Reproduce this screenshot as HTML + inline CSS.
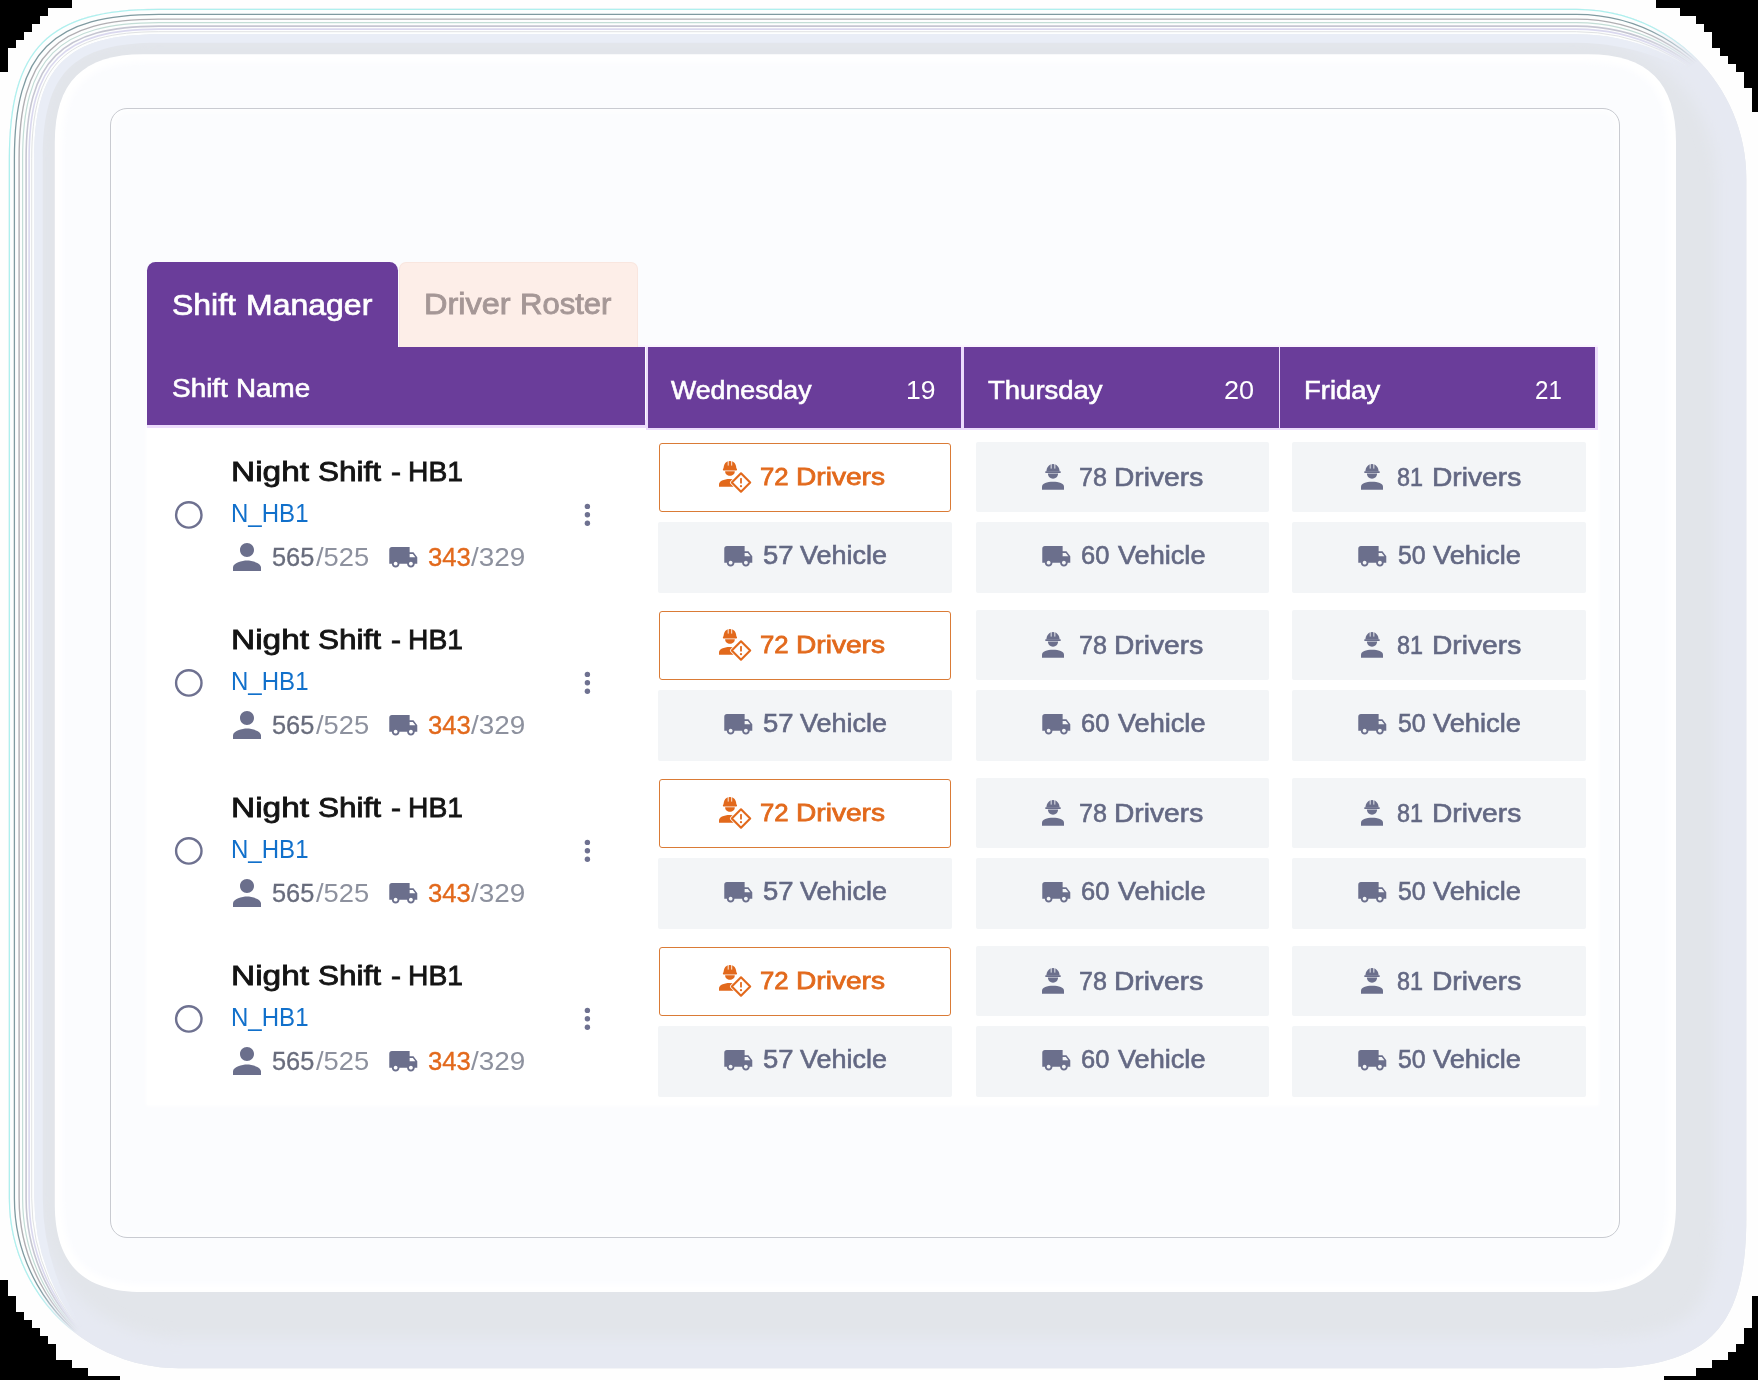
<!DOCTYPE html>
<html lang="en"><head><meta charset="utf-8"><title>Shift Manager</title>
<style>
html,body{margin:0;padding:0}
body{width:1758px;height:1380px;position:relative;overflow:hidden;background:#fefefe;font-family:"Liberation Sans",sans-serif}
.abs{position:absolute;display:block}
.t{position:absolute;display:block;white-space:pre;line-height:1;transform-origin:0 0;font-family:"Liberation Sans",sans-serif}
.panel{left:110px;top:108px;width:1509.5px;height:1129.5px;border:1px solid #c9cbd1;border-radius:17px;box-sizing:border-box;background:#fbfcfe;box-shadow:inset 0 0 8px 2px rgba(255,255,255,.9)}
.body{left:146.5px;top:427px;width:1451px;height:677.5px;background:#fff;box-shadow:0 0 4px 1px #fff}
.tab1{left:147.2px;top:261.6px;width:251.2px;height:86px;background:#6a3d9a;border-radius:8.5px 8.5px 0 0}
.tab2{left:399px;top:262px;width:239px;height:85px;background:#fdeee8;border:1px solid #f9e6df;border-bottom:none;box-sizing:border-box;border-radius:7px 7px 0 0}
.hd{background:#6a3d9a}
.lav{background:#ecdcfc}
.day{background:#6a3d9a}
.ocell{background:#fff;border:1.35px solid #da7b36;border-radius:3px;box-sizing:border-box}

.gcell{background:#f3f5f7;border-radius:2px;filter:blur(0.6px)}
</style></head>
<body>
<svg class="abs" width="1758" height="1380" viewBox="0 0 1758 1380" style="left:0;top:0"><defs><linearGradient id="fade" gradientUnits="userSpaceOnUse" x1="0" y1="0" x2="1000" y2="1276"><stop offset="0" stop-color="#fff" stop-opacity="1"/><stop offset="0.640" stop-color="#fff" stop-opacity="1"/><stop offset="0.676" stop-color="#fff" stop-opacity="0"/></linearGradient><mask id="m" maskUnits="userSpaceOnUse" x="0" y="0" width="1758" height="1380"><rect width="1758" height="1380" fill="url(#fade)"/></mask><clipPath id="oc"><path d="M8.80 158.80 C8.80 47.80 47.80 8.80 158.80 8.80 L1576.30 8.80 C1670.19 8.80 1746.30 84.91 1746.30 178.80 L1746.30 1218.20 C1746.30 1329.20 1707.30 1368.20 1596.30 1368.20 L178.80 1368.20 C84.91 1368.20 8.80 1292.09 8.80 1198.20 Z"/></clipPath><clipPath id="scc"><path d="M54.80 142.20 C54.80 82.36 82.96 54.20 142.80 54.20 L1588.00 54.20 C1647.84 54.20 1676.00 82.36 1676.00 142.20 L1676.00 1204.00 C1676.00 1263.84 1647.84 1292.00 1588.00 1292.00 L142.80 1292.00 C82.96 1292.00 54.80 1263.84 54.80 1204.00 Z"/></clipPath><filter id="b3" x="-5%" y="-5%" width="110%" height="110%"><feGaussianBlur stdDeviation="3.2"/></filter><filter id="b8" x="-5%" y="-5%" width="110%" height="110%"><feGaussianBlur stdDeviation="7"/></filter></defs><g shape-rendering="crispEdges" fill="#000"><rect x="0" y="0" width="72" height="8"/><rect x="0" y="8" width="48" height="8"/><rect x="0" y="16" width="40" height="8"/><rect x="0" y="24" width="32" height="8"/><rect x="0" y="32" width="24" height="8"/><rect x="0" y="40" width="16" height="8"/><rect x="0" y="48" width="8" height="8"/><rect x="0" y="56" width="8" height="8"/><rect x="0" y="64" width="8" height="8"/><rect x="1656" y="0" width="102" height="8"/><rect x="1680" y="8" width="78" height="8"/><rect x="1696" y="16" width="62" height="8"/><rect x="1704" y="24" width="54" height="8"/><rect x="1712" y="32" width="46" height="16"/><rect x="1720" y="48" width="38" height="8"/><rect x="1728" y="56" width="30" height="8"/><rect x="1736" y="64" width="22" height="8"/><rect x="1744" y="72" width="14" height="16"/><rect x="1752" y="88" width="6" height="24"/><rect x="0" y="1280" width="8" height="16"/><rect x="0" y="1296" width="16" height="16"/><rect x="0" y="1312" width="24" height="8"/><rect x="0" y="1320" width="32" height="8"/><rect x="0" y="1328" width="40" height="8"/><rect x="0" y="1336" width="48" height="8"/><rect x="0" y="1344" width="56" height="16"/><rect x="0" y="1360" width="72" height="8"/><rect x="0" y="1368" width="88" height="8"/><rect x="0" y="1376" width="120" height="4"/><rect x="1752" y="1296" width="6" height="32"/><rect x="1744" y="1328" width="14" height="16"/><rect x="1736" y="1344" width="22" height="8"/><rect x="1728" y="1352" width="30" height="8"/><rect x="1712" y="1360" width="46" height="8"/><rect x="1696" y="1368" width="62" height="8"/><rect x="1664" y="1376" width="94" height="4"/></g><path d="M8.80 158.80 C8.80 47.80 47.80 8.80 158.80 8.80 L1576.30 8.80 C1670.19 8.80 1746.30 84.91 1746.30 178.80 L1746.30 1218.20 C1746.30 1329.20 1707.30 1368.20 1596.30 1368.20 L178.80 1368.20 C84.91 1368.20 8.80 1292.09 8.80 1198.20 Z" fill="#e2e5ea"/><g clip-path="url(#oc)"><path d="M8.80 158.80 C8.80 47.80 47.80 8.80 158.80 8.80 L1576.30 8.80 C1670.19 8.80 1746.30 84.91 1746.30 178.80 L1746.30 1218.20 C1746.30 1329.20 1707.30 1368.20 1596.30 1368.20 L178.80 1368.20 C84.91 1368.20 8.80 1292.09 8.80 1198.20 Z" fill="none" stroke="#e6e9f2" stroke-width="60" filter="url(#b8)"/></g><g mask="url(#m)"><path d="M98.99 1348.30 A170.00 170.00 0 0 1 8.80 1198.20 L8.80 158.80 C8.80 47.80 47.80 8.80 158.80 8.80 L1576.30 8.80 A170.00 170.00 0 0 1 1726.40 98.99 L1726.40 98.99 A206.49 206.49 0 0 0 1576.30 34.30 L158.80 34.30 C66.67 34.30 34.30 66.67 34.30 158.80 L34.30 1198.20 A206.49 206.49 0 0 0 98.99 1348.30 Z" fill="#fdfefe"/><path d="M98.99 1348.30 A206.49 206.49 0 0 1 34.30 1198.20 L34.30 158.80 C34.30 66.67 66.67 34.30 158.80 34.30 L1576.30 34.30 A206.49 206.49 0 0 1 1726.40 98.99 L1726.40 98.99 A228.58 228.58 0 0 0 1576.30 42.80 L158.80 42.80 C72.96 42.80 42.80 72.96 42.80 158.80 L42.80 1198.20 A228.58 228.58 0 0 0 98.99 1348.30 Z" fill="#e9edf6"/><path d="M98.99 1348.30 A170.54 170.54 0 0 1 9.40 1198.20 L9.40 158.80 C9.40 48.24 48.24 9.40 158.80 9.40 L1576.30 9.40 A170.54 170.54 0 0 1 1726.40 98.99" fill="none" stroke="#aef0ee" stroke-width="1.3"/><path d="M98.99 1348.30 A175.47 175.47 0 0 1 14.40 1198.20 L14.40 158.80 C14.40 51.94 51.94 14.40 158.80 14.40 L1576.30 14.40 A175.47 175.47 0 0 1 1726.40 98.99" fill="none" stroke="#7f9aa0" stroke-width="1.3"/><path d="M98.99 1348.30 A180.95 180.95 0 0 1 19.10 1198.20 L19.10 158.80 C19.10 55.42 55.42 19.10 158.80 19.10 L1576.30 19.10 A180.95 180.95 0 0 1 1726.40 98.99" fill="none" stroke="#b1afb3" stroke-width="1.4"/><path d="M98.99 1348.30 A185.66 185.66 0 0 1 22.60 1198.20 L22.60 158.80 C22.60 58.01 58.01 22.60 158.80 22.60 L1576.30 22.60 A185.66 185.66 0 0 1 1726.40 98.99" fill="none" stroke="#c3ddd6" stroke-width="1.2"/><path d="M98.99 1348.30 A191.00 191.00 0 0 1 26.10 1198.20 L26.10 158.80 C26.10 60.60 60.60 26.10 158.80 26.10 L1576.30 26.10 A191.00 191.00 0 0 1 1726.40 98.99" fill="none" stroke="#c6c6d2" stroke-width="1.6"/><path d="M98.99 1348.30 A196.13 196.13 0 0 1 29.10 1198.20 L29.10 158.80 C29.10 62.82 62.82 29.10 158.80 29.10 L1576.30 29.10 A196.13 196.13 0 0 1 1726.40 98.99" fill="none" stroke="#dad8ee" stroke-width="1.6"/><path d="M98.99 1348.30 A201.06 201.06 0 0 1 31.70 1198.20 L31.70 158.80 C31.70 64.75 64.75 31.70 158.80 31.70 L1576.30 31.70 A201.06 201.06 0 0 1 1726.40 98.99" fill="none" stroke="#e0e2e3" stroke-width="1.0"/></g><path d="M54.80 142.20 C54.80 82.36 82.96 54.20 142.80 54.20 L1588.00 54.20 C1647.84 54.20 1676.00 82.36 1676.00 142.20 L1676.00 1204.00 C1676.00 1263.84 1647.84 1292.00 1588.00 1292.00 L142.80 1292.00 C82.96 1292.00 54.80 1263.84 54.80 1204.00 Z" fill="#ffffff"/><g clip-path="url(#scc)"><path d="M62.80 142.20 C62.80 87.80 88.40 62.20 142.80 62.20 L1588.00 62.20 C1642.40 62.20 1668.00 87.80 1668.00 142.20 L1668.00 1204.00 C1668.00 1258.40 1642.40 1284.00 1588.00 1284.00 L142.80 1284.00 C88.40 1284.00 62.80 1258.40 62.80 1204.00 Z" fill="#fbfcfe" filter="url(#b3)"/></g></svg>
<div class="abs panel"></div>
<div class="abs body"></div>
<div class="abs tab1"></div>
<div class="abs tab2"></div>
<div class="abs lav" style="left:147.2px;top:420px;width:498.5px;height:7.7px"></div>
<div class="abs" style="left:638px;top:345.2px;width:959.5px;height:4px;background:#fbf4ff"></div>
<div class="abs lav" style="left:645.5px;top:347.2px;width:952px;height:82.5px"></div>
<div class="abs hd" style="left:147.2px;top:346.8px;width:498.3px;height:78.7px"></div>
<div class="abs day" style="left:648.2px;top:347.1px;width:312.8px;height:80.6px"></div>
<div class="abs day" style="left:963.5px;top:347.1px;width:315.3px;height:80.6px"></div>
<div class="abs day" style="left:1280.2px;top:347.3px;width:314.6px;height:80.6px"></div>
<svg class="abs" style="left:172px;top:498px" width="34" height="34" viewBox="0 0 34 34"><circle cx="16.8" cy="16.9" r="12.7" fill="none" stroke="#6e7190" stroke-width="2.4"/></svg>
<svg class="abs" style="left:580px;top:500px" width="16" height="30" viewBox="0 0 16 30"><g fill="#6e7190"><circle cx="7.4" cy="6.4" r="2.7"/><circle cx="7.4" cy="14.8" r="2.7"/><circle cx="7.4" cy="23.2" r="2.7"/></g></svg>
<svg class="abs" style="left:225.60px;top:536.10px" width="42.00" height="42.00" viewBox="0 0 24 24"><path fill="#6b6f8c" d="M12 12c2.21 0 4-1.79 4-4s-1.79-4-4-4-4 1.79-4 4 1.79 4 4 4zm0 2c-2.67 0-8 1.34-8 4v2h16v-2c0-2.66-5.33-4-8-4z"/></svg>
<svg class="abs" style="left:387.73px;top:541.71px" width="30.55" height="30.55" viewBox="0 0 24 24"><path fill="#6b6f8c" d="M20 8h-3V4H3c-1.1 0-2 .9-2 2v11h2c0 1.66 1.34 3 3 3s3-1.34 3-3h6c0 1.66 1.34 3 3 3s3-1.34 3-3h2v-5l-3-4zM6 18.5c-.83 0-1.5-.67-1.5-1.5s.67-1.5 1.5-1.5 1.5.67 1.5 1.5-.67 1.5-1.5 1.5zm13.5-9l1.96 2.5H17V9.5h2.5zm-1.5 9c-.83 0-1.5-.67-1.5-1.5s.67-1.5 1.5-1.5 1.5.67 1.5 1.5-.67 1.5-1.5 1.5z"/></svg>
<div class="abs ocell" style="left:658.6px;top:442.8px;width:292px;height:69px"></div>
<div class="abs gcell" style="left:657.7px;top:521.6px;width:294px;height:71px"></div>
<div class="abs gcell" style="left:975.5px;top:442.3px;width:293.8px;height:70.2px"></div>
<div class="abs gcell" style="left:975.5px;top:521.7px;width:293.8px;height:71px"></div>
<div class="abs gcell" style="left:1292.2px;top:442.3px;width:293.8px;height:70.2px"></div>
<div class="abs gcell" style="left:1292.2px;top:521.7px;width:293.8px;height:71px"></div>
<svg class="abs" style="left:718.90px;top:461.10px" width="35" height="34" viewBox="0 0 35 34"><path fill="#e2691c" d="M4.5 8.3 C4.5 2.9 7.1 0 10.95 0 C14.8 0 17.4 2.9 17.4 8.3 Z"/><rect x="3.9" y="7.6" width="14.1" height="1.9" rx="0.7" fill="#e2691c"/><rect x="8.75" y="0" width="0.85" height="4.6" fill="#fff"/><rect x="12.3" y="0" width="0.85" height="4.6" fill="#fff"/><path fill="#e2691c" d="M6.1 10.2 H15.8 C15.8 13 13.6 14.7 10.95 14.7 C8.3 14.7 6.1 13 6.1 10.2 Z"/><path fill="#e2691c" d="M0 25.7 V23.4 C0 20.2 4.4 17.9 10.95 17.9 C12.9 17.9 14.6 18.1 16.2 18.5 V25.7 Z"/><path d="M22 12.3 L31.2 21.5 L22 30.7 L12.8 21.5 Z" fill="#fff" stroke="#fff" stroke-width="3.8" stroke-linejoin="round"/><path d="M22 12.3 L31.2 21.5 L22 30.7 L12.8 21.5 Z" fill="#fff" stroke="#e2691c" stroke-width="2.1" stroke-linejoin="round"/><rect x="21.1" y="17.0" width="1.8" height="5.6" rx="0.5" fill="#e2691c"/><circle cx="22" cy="25.2" r="1.1" fill="#e2691c"/></svg>
<svg class="abs" style="left:1042.10px;top:464.00px" width="22" height="26" viewBox="0 0 22 26"><path fill="#6b6f8c" d="M4.4 7.6 C4.4 3.2 7.4 0 11 0 C14.6 0 17.6 3.2 17.6 7.6 Z"/><rect x="3.2" y="7.2" width="15.6" height="1.7" rx="0.6" fill="#6b6f8c"/><rect x="8.7" y="0" width="0.9" height="4.6" fill="#f3f5f7"/><rect x="12.4" y="0" width="0.9" height="4.6" fill="#f3f5f7"/><path fill="#6b6f8c" d="M5.9 9.6 H16.1 C16.1 12.6 13.8 14.8 11 14.8 C8.2 14.8 5.9 12.6 5.9 9.6 Z"/><path fill="#6b6f8c" d="M0 25.8 V22.6 C0 19.6 5 17.8 11 17.8 C17 17.8 22 19.6 22 22.6 V25.8 Z"/></svg>
<svg class="abs" style="left:1361.20px;top:464.00px" width="22" height="26" viewBox="0 0 22 26"><path fill="#6b6f8c" d="M4.4 7.6 C4.4 3.2 7.4 0 11 0 C14.6 0 17.6 3.2 17.6 7.6 Z"/><rect x="3.2" y="7.2" width="15.6" height="1.7" rx="0.6" fill="#6b6f8c"/><rect x="8.7" y="0" width="0.9" height="4.6" fill="#f3f5f7"/><rect x="12.4" y="0" width="0.9" height="4.6" fill="#f3f5f7"/><path fill="#6b6f8c" d="M5.9 9.6 H16.1 C16.1 12.6 13.8 14.8 11 14.8 C8.2 14.8 5.9 12.6 5.9 9.6 Z"/><path fill="#6b6f8c" d="M0 25.8 V22.6 C0 19.6 5 17.8 11 17.8 C17 17.8 22 19.6 22 22.6 V25.8 Z"/></svg>
<svg class="abs" style="left:722.63px;top:540.91px" width="30.55" height="30.55" viewBox="0 0 24 24"><path fill="#6b6f8c" d="M20 8h-3V4H3c-1.1 0-2 .9-2 2v11h2c0 1.66 1.34 3 3 3s3-1.34 3-3h6c0 1.66 1.34 3 3 3s3-1.34 3-3h2v-5l-3-4zM6 18.5c-.83 0-1.5-.67-1.5-1.5s.67-1.5 1.5-1.5 1.5.67 1.5 1.5-.67 1.5-1.5 1.5zm13.5-9l1.96 2.5H17V9.5h2.5zm-1.5 9c-.83 0-1.5-.67-1.5-1.5s.67-1.5 1.5-1.5 1.5.67 1.5 1.5-.67 1.5-1.5 1.5z"/></svg>
<svg class="abs" style="left:1040.83px;top:540.91px" width="30.55" height="30.55" viewBox="0 0 24 24"><path fill="#6b6f8c" d="M20 8h-3V4H3c-1.1 0-2 .9-2 2v11h2c0 1.66 1.34 3 3 3s3-1.34 3-3h6c0 1.66 1.34 3 3 3s3-1.34 3-3h2v-5l-3-4zM6 18.5c-.83 0-1.5-.67-1.5-1.5s.67-1.5 1.5-1.5 1.5.67 1.5 1.5-.67 1.5-1.5 1.5zm13.5-9l1.96 2.5H17V9.5h2.5zm-1.5 9c-.83 0-1.5-.67-1.5-1.5s.67-1.5 1.5-1.5 1.5.67 1.5 1.5-.67 1.5-1.5 1.5z"/></svg>
<svg class="abs" style="left:1357.03px;top:540.91px" width="30.55" height="30.55" viewBox="0 0 24 24"><path fill="#6b6f8c" d="M20 8h-3V4H3c-1.1 0-2 .9-2 2v11h2c0 1.66 1.34 3 3 3s3-1.34 3-3h6c0 1.66 1.34 3 3 3s3-1.34 3-3h2v-5l-3-4zM6 18.5c-.83 0-1.5-.67-1.5-1.5s.67-1.5 1.5-1.5 1.5.67 1.5 1.5-.67 1.5-1.5 1.5zm13.5-9l1.96 2.5H17V9.5h2.5zm-1.5 9c-.83 0-1.5-.67-1.5-1.5s.67-1.5 1.5-1.5 1.5.67 1.5 1.5-.67 1.5-1.5 1.5z"/></svg>
<svg class="abs" style="left:172px;top:666px" width="34" height="34" viewBox="0 0 34 34"><circle cx="16.8" cy="16.9" r="12.7" fill="none" stroke="#6e7190" stroke-width="2.4"/></svg>
<svg class="abs" style="left:580px;top:668px" width="16" height="30" viewBox="0 0 16 30"><g fill="#6e7190"><circle cx="7.4" cy="6.4" r="2.7"/><circle cx="7.4" cy="14.8" r="2.7"/><circle cx="7.4" cy="23.2" r="2.7"/></g></svg>
<svg class="abs" style="left:225.60px;top:704.10px" width="42.00" height="42.00" viewBox="0 0 24 24"><path fill="#6b6f8c" d="M12 12c2.21 0 4-1.79 4-4s-1.79-4-4-4-4 1.79-4 4 1.79 4 4 4zm0 2c-2.67 0-8 1.34-8 4v2h16v-2c0-2.66-5.33-4-8-4z"/></svg>
<svg class="abs" style="left:387.73px;top:709.71px" width="30.55" height="30.55" viewBox="0 0 24 24"><path fill="#6b6f8c" d="M20 8h-3V4H3c-1.1 0-2 .9-2 2v11h2c0 1.66 1.34 3 3 3s3-1.34 3-3h6c0 1.66 1.34 3 3 3s3-1.34 3-3h2v-5l-3-4zM6 18.5c-.83 0-1.5-.67-1.5-1.5s.67-1.5 1.5-1.5 1.5.67 1.5 1.5-.67 1.5-1.5 1.5zm13.5-9l1.96 2.5H17V9.5h2.5zm-1.5 9c-.83 0-1.5-.67-1.5-1.5s.67-1.5 1.5-1.5 1.5.67 1.5 1.5-.67 1.5-1.5 1.5z"/></svg>
<div class="abs ocell" style="left:658.6px;top:610.8px;width:292px;height:69px"></div>
<div class="abs gcell" style="left:657.7px;top:689.6px;width:294px;height:71px"></div>
<div class="abs gcell" style="left:975.5px;top:610.3px;width:293.8px;height:70.2px"></div>
<div class="abs gcell" style="left:975.5px;top:689.7px;width:293.8px;height:71px"></div>
<div class="abs gcell" style="left:1292.2px;top:610.3px;width:293.8px;height:70.2px"></div>
<div class="abs gcell" style="left:1292.2px;top:689.7px;width:293.8px;height:71px"></div>
<svg class="abs" style="left:718.90px;top:629.10px" width="35" height="34" viewBox="0 0 35 34"><path fill="#e2691c" d="M4.5 8.3 C4.5 2.9 7.1 0 10.95 0 C14.8 0 17.4 2.9 17.4 8.3 Z"/><rect x="3.9" y="7.6" width="14.1" height="1.9" rx="0.7" fill="#e2691c"/><rect x="8.75" y="0" width="0.85" height="4.6" fill="#fff"/><rect x="12.3" y="0" width="0.85" height="4.6" fill="#fff"/><path fill="#e2691c" d="M6.1 10.2 H15.8 C15.8 13 13.6 14.7 10.95 14.7 C8.3 14.7 6.1 13 6.1 10.2 Z"/><path fill="#e2691c" d="M0 25.7 V23.4 C0 20.2 4.4 17.9 10.95 17.9 C12.9 17.9 14.6 18.1 16.2 18.5 V25.7 Z"/><path d="M22 12.3 L31.2 21.5 L22 30.7 L12.8 21.5 Z" fill="#fff" stroke="#fff" stroke-width="3.8" stroke-linejoin="round"/><path d="M22 12.3 L31.2 21.5 L22 30.7 L12.8 21.5 Z" fill="#fff" stroke="#e2691c" stroke-width="2.1" stroke-linejoin="round"/><rect x="21.1" y="17.0" width="1.8" height="5.6" rx="0.5" fill="#e2691c"/><circle cx="22" cy="25.2" r="1.1" fill="#e2691c"/></svg>
<svg class="abs" style="left:1042.10px;top:632.00px" width="22" height="26" viewBox="0 0 22 26"><path fill="#6b6f8c" d="M4.4 7.6 C4.4 3.2 7.4 0 11 0 C14.6 0 17.6 3.2 17.6 7.6 Z"/><rect x="3.2" y="7.2" width="15.6" height="1.7" rx="0.6" fill="#6b6f8c"/><rect x="8.7" y="0" width="0.9" height="4.6" fill="#f3f5f7"/><rect x="12.4" y="0" width="0.9" height="4.6" fill="#f3f5f7"/><path fill="#6b6f8c" d="M5.9 9.6 H16.1 C16.1 12.6 13.8 14.8 11 14.8 C8.2 14.8 5.9 12.6 5.9 9.6 Z"/><path fill="#6b6f8c" d="M0 25.8 V22.6 C0 19.6 5 17.8 11 17.8 C17 17.8 22 19.6 22 22.6 V25.8 Z"/></svg>
<svg class="abs" style="left:1361.20px;top:632.00px" width="22" height="26" viewBox="0 0 22 26"><path fill="#6b6f8c" d="M4.4 7.6 C4.4 3.2 7.4 0 11 0 C14.6 0 17.6 3.2 17.6 7.6 Z"/><rect x="3.2" y="7.2" width="15.6" height="1.7" rx="0.6" fill="#6b6f8c"/><rect x="8.7" y="0" width="0.9" height="4.6" fill="#f3f5f7"/><rect x="12.4" y="0" width="0.9" height="4.6" fill="#f3f5f7"/><path fill="#6b6f8c" d="M5.9 9.6 H16.1 C16.1 12.6 13.8 14.8 11 14.8 C8.2 14.8 5.9 12.6 5.9 9.6 Z"/><path fill="#6b6f8c" d="M0 25.8 V22.6 C0 19.6 5 17.8 11 17.8 C17 17.8 22 19.6 22 22.6 V25.8 Z"/></svg>
<svg class="abs" style="left:722.63px;top:708.91px" width="30.55" height="30.55" viewBox="0 0 24 24"><path fill="#6b6f8c" d="M20 8h-3V4H3c-1.1 0-2 .9-2 2v11h2c0 1.66 1.34 3 3 3s3-1.34 3-3h6c0 1.66 1.34 3 3 3s3-1.34 3-3h2v-5l-3-4zM6 18.5c-.83 0-1.5-.67-1.5-1.5s.67-1.5 1.5-1.5 1.5.67 1.5 1.5-.67 1.5-1.5 1.5zm13.5-9l1.96 2.5H17V9.5h2.5zm-1.5 9c-.83 0-1.5-.67-1.5-1.5s.67-1.5 1.5-1.5 1.5.67 1.5 1.5-.67 1.5-1.5 1.5z"/></svg>
<svg class="abs" style="left:1040.83px;top:708.91px" width="30.55" height="30.55" viewBox="0 0 24 24"><path fill="#6b6f8c" d="M20 8h-3V4H3c-1.1 0-2 .9-2 2v11h2c0 1.66 1.34 3 3 3s3-1.34 3-3h6c0 1.66 1.34 3 3 3s3-1.34 3-3h2v-5l-3-4zM6 18.5c-.83 0-1.5-.67-1.5-1.5s.67-1.5 1.5-1.5 1.5.67 1.5 1.5-.67 1.5-1.5 1.5zm13.5-9l1.96 2.5H17V9.5h2.5zm-1.5 9c-.83 0-1.5-.67-1.5-1.5s.67-1.5 1.5-1.5 1.5.67 1.5 1.5-.67 1.5-1.5 1.5z"/></svg>
<svg class="abs" style="left:1357.03px;top:708.91px" width="30.55" height="30.55" viewBox="0 0 24 24"><path fill="#6b6f8c" d="M20 8h-3V4H3c-1.1 0-2 .9-2 2v11h2c0 1.66 1.34 3 3 3s3-1.34 3-3h6c0 1.66 1.34 3 3 3s3-1.34 3-3h2v-5l-3-4zM6 18.5c-.83 0-1.5-.67-1.5-1.5s.67-1.5 1.5-1.5 1.5.67 1.5 1.5-.67 1.5-1.5 1.5zm13.5-9l1.96 2.5H17V9.5h2.5zm-1.5 9c-.83 0-1.5-.67-1.5-1.5s.67-1.5 1.5-1.5 1.5.67 1.5 1.5-.67 1.5-1.5 1.5z"/></svg>
<svg class="abs" style="left:172px;top:834px" width="34" height="34" viewBox="0 0 34 34"><circle cx="16.8" cy="16.9" r="12.7" fill="none" stroke="#6e7190" stroke-width="2.4"/></svg>
<svg class="abs" style="left:580px;top:836px" width="16" height="30" viewBox="0 0 16 30"><g fill="#6e7190"><circle cx="7.4" cy="6.4" r="2.7"/><circle cx="7.4" cy="14.8" r="2.7"/><circle cx="7.4" cy="23.2" r="2.7"/></g></svg>
<svg class="abs" style="left:225.60px;top:872.10px" width="42.00" height="42.00" viewBox="0 0 24 24"><path fill="#6b6f8c" d="M12 12c2.21 0 4-1.79 4-4s-1.79-4-4-4-4 1.79-4 4 1.79 4 4 4zm0 2c-2.67 0-8 1.34-8 4v2h16v-2c0-2.66-5.33-4-8-4z"/></svg>
<svg class="abs" style="left:387.73px;top:877.71px" width="30.55" height="30.55" viewBox="0 0 24 24"><path fill="#6b6f8c" d="M20 8h-3V4H3c-1.1 0-2 .9-2 2v11h2c0 1.66 1.34 3 3 3s3-1.34 3-3h6c0 1.66 1.34 3 3 3s3-1.34 3-3h2v-5l-3-4zM6 18.5c-.83 0-1.5-.67-1.5-1.5s.67-1.5 1.5-1.5 1.5.67 1.5 1.5-.67 1.5-1.5 1.5zm13.5-9l1.96 2.5H17V9.5h2.5zm-1.5 9c-.83 0-1.5-.67-1.5-1.5s.67-1.5 1.5-1.5 1.5.67 1.5 1.5-.67 1.5-1.5 1.5z"/></svg>
<div class="abs ocell" style="left:658.6px;top:778.8px;width:292px;height:69px"></div>
<div class="abs gcell" style="left:657.7px;top:857.6px;width:294px;height:71px"></div>
<div class="abs gcell" style="left:975.5px;top:778.3px;width:293.8px;height:70.2px"></div>
<div class="abs gcell" style="left:975.5px;top:857.7px;width:293.8px;height:71px"></div>
<div class="abs gcell" style="left:1292.2px;top:778.3px;width:293.8px;height:70.2px"></div>
<div class="abs gcell" style="left:1292.2px;top:857.7px;width:293.8px;height:71px"></div>
<svg class="abs" style="left:718.90px;top:797.10px" width="35" height="34" viewBox="0 0 35 34"><path fill="#e2691c" d="M4.5 8.3 C4.5 2.9 7.1 0 10.95 0 C14.8 0 17.4 2.9 17.4 8.3 Z"/><rect x="3.9" y="7.6" width="14.1" height="1.9" rx="0.7" fill="#e2691c"/><rect x="8.75" y="0" width="0.85" height="4.6" fill="#fff"/><rect x="12.3" y="0" width="0.85" height="4.6" fill="#fff"/><path fill="#e2691c" d="M6.1 10.2 H15.8 C15.8 13 13.6 14.7 10.95 14.7 C8.3 14.7 6.1 13 6.1 10.2 Z"/><path fill="#e2691c" d="M0 25.7 V23.4 C0 20.2 4.4 17.9 10.95 17.9 C12.9 17.9 14.6 18.1 16.2 18.5 V25.7 Z"/><path d="M22 12.3 L31.2 21.5 L22 30.7 L12.8 21.5 Z" fill="#fff" stroke="#fff" stroke-width="3.8" stroke-linejoin="round"/><path d="M22 12.3 L31.2 21.5 L22 30.7 L12.8 21.5 Z" fill="#fff" stroke="#e2691c" stroke-width="2.1" stroke-linejoin="round"/><rect x="21.1" y="17.0" width="1.8" height="5.6" rx="0.5" fill="#e2691c"/><circle cx="22" cy="25.2" r="1.1" fill="#e2691c"/></svg>
<svg class="abs" style="left:1042.10px;top:800.00px" width="22" height="26" viewBox="0 0 22 26"><path fill="#6b6f8c" d="M4.4 7.6 C4.4 3.2 7.4 0 11 0 C14.6 0 17.6 3.2 17.6 7.6 Z"/><rect x="3.2" y="7.2" width="15.6" height="1.7" rx="0.6" fill="#6b6f8c"/><rect x="8.7" y="0" width="0.9" height="4.6" fill="#f3f5f7"/><rect x="12.4" y="0" width="0.9" height="4.6" fill="#f3f5f7"/><path fill="#6b6f8c" d="M5.9 9.6 H16.1 C16.1 12.6 13.8 14.8 11 14.8 C8.2 14.8 5.9 12.6 5.9 9.6 Z"/><path fill="#6b6f8c" d="M0 25.8 V22.6 C0 19.6 5 17.8 11 17.8 C17 17.8 22 19.6 22 22.6 V25.8 Z"/></svg>
<svg class="abs" style="left:1361.20px;top:800.00px" width="22" height="26" viewBox="0 0 22 26"><path fill="#6b6f8c" d="M4.4 7.6 C4.4 3.2 7.4 0 11 0 C14.6 0 17.6 3.2 17.6 7.6 Z"/><rect x="3.2" y="7.2" width="15.6" height="1.7" rx="0.6" fill="#6b6f8c"/><rect x="8.7" y="0" width="0.9" height="4.6" fill="#f3f5f7"/><rect x="12.4" y="0" width="0.9" height="4.6" fill="#f3f5f7"/><path fill="#6b6f8c" d="M5.9 9.6 H16.1 C16.1 12.6 13.8 14.8 11 14.8 C8.2 14.8 5.9 12.6 5.9 9.6 Z"/><path fill="#6b6f8c" d="M0 25.8 V22.6 C0 19.6 5 17.8 11 17.8 C17 17.8 22 19.6 22 22.6 V25.8 Z"/></svg>
<svg class="abs" style="left:722.63px;top:876.91px" width="30.55" height="30.55" viewBox="0 0 24 24"><path fill="#6b6f8c" d="M20 8h-3V4H3c-1.1 0-2 .9-2 2v11h2c0 1.66 1.34 3 3 3s3-1.34 3-3h6c0 1.66 1.34 3 3 3s3-1.34 3-3h2v-5l-3-4zM6 18.5c-.83 0-1.5-.67-1.5-1.5s.67-1.5 1.5-1.5 1.5.67 1.5 1.5-.67 1.5-1.5 1.5zm13.5-9l1.96 2.5H17V9.5h2.5zm-1.5 9c-.83 0-1.5-.67-1.5-1.5s.67-1.5 1.5-1.5 1.5.67 1.5 1.5-.67 1.5-1.5 1.5z"/></svg>
<svg class="abs" style="left:1040.83px;top:876.91px" width="30.55" height="30.55" viewBox="0 0 24 24"><path fill="#6b6f8c" d="M20 8h-3V4H3c-1.1 0-2 .9-2 2v11h2c0 1.66 1.34 3 3 3s3-1.34 3-3h6c0 1.66 1.34 3 3 3s3-1.34 3-3h2v-5l-3-4zM6 18.5c-.83 0-1.5-.67-1.5-1.5s.67-1.5 1.5-1.5 1.5.67 1.5 1.5-.67 1.5-1.5 1.5zm13.5-9l1.96 2.5H17V9.5h2.5zm-1.5 9c-.83 0-1.5-.67-1.5-1.5s.67-1.5 1.5-1.5 1.5.67 1.5 1.5-.67 1.5-1.5 1.5z"/></svg>
<svg class="abs" style="left:1357.03px;top:876.91px" width="30.55" height="30.55" viewBox="0 0 24 24"><path fill="#6b6f8c" d="M20 8h-3V4H3c-1.1 0-2 .9-2 2v11h2c0 1.66 1.34 3 3 3s3-1.34 3-3h6c0 1.66 1.34 3 3 3s3-1.34 3-3h2v-5l-3-4zM6 18.5c-.83 0-1.5-.67-1.5-1.5s.67-1.5 1.5-1.5 1.5.67 1.5 1.5-.67 1.5-1.5 1.5zm13.5-9l1.96 2.5H17V9.5h2.5zm-1.5 9c-.83 0-1.5-.67-1.5-1.5s.67-1.5 1.5-1.5 1.5.67 1.5 1.5-.67 1.5-1.5 1.5z"/></svg>
<svg class="abs" style="left:172px;top:1002px" width="34" height="34" viewBox="0 0 34 34"><circle cx="16.8" cy="16.9" r="12.7" fill="none" stroke="#6e7190" stroke-width="2.4"/></svg>
<svg class="abs" style="left:580px;top:1004px" width="16" height="30" viewBox="0 0 16 30"><g fill="#6e7190"><circle cx="7.4" cy="6.4" r="2.7"/><circle cx="7.4" cy="14.8" r="2.7"/><circle cx="7.4" cy="23.2" r="2.7"/></g></svg>
<svg class="abs" style="left:225.60px;top:1040.10px" width="42.00" height="42.00" viewBox="0 0 24 24"><path fill="#6b6f8c" d="M12 12c2.21 0 4-1.79 4-4s-1.79-4-4-4-4 1.79-4 4 1.79 4 4 4zm0 2c-2.67 0-8 1.34-8 4v2h16v-2c0-2.66-5.33-4-8-4z"/></svg>
<svg class="abs" style="left:387.73px;top:1045.71px" width="30.55" height="30.55" viewBox="0 0 24 24"><path fill="#6b6f8c" d="M20 8h-3V4H3c-1.1 0-2 .9-2 2v11h2c0 1.66 1.34 3 3 3s3-1.34 3-3h6c0 1.66 1.34 3 3 3s3-1.34 3-3h2v-5l-3-4zM6 18.5c-.83 0-1.5-.67-1.5-1.5s.67-1.5 1.5-1.5 1.5.67 1.5 1.5-.67 1.5-1.5 1.5zm13.5-9l1.96 2.5H17V9.5h2.5zm-1.5 9c-.83 0-1.5-.67-1.5-1.5s.67-1.5 1.5-1.5 1.5.67 1.5 1.5-.67 1.5-1.5 1.5z"/></svg>
<div class="abs ocell" style="left:658.6px;top:946.8px;width:292px;height:69px"></div>
<div class="abs gcell" style="left:657.7px;top:1025.6px;width:294px;height:71px"></div>
<div class="abs gcell" style="left:975.5px;top:946.3px;width:293.8px;height:70.2px"></div>
<div class="abs gcell" style="left:975.5px;top:1025.7px;width:293.8px;height:71px"></div>
<div class="abs gcell" style="left:1292.2px;top:946.3px;width:293.8px;height:70.2px"></div>
<div class="abs gcell" style="left:1292.2px;top:1025.7px;width:293.8px;height:71px"></div>
<svg class="abs" style="left:718.90px;top:965.10px" width="35" height="34" viewBox="0 0 35 34"><path fill="#e2691c" d="M4.5 8.3 C4.5 2.9 7.1 0 10.95 0 C14.8 0 17.4 2.9 17.4 8.3 Z"/><rect x="3.9" y="7.6" width="14.1" height="1.9" rx="0.7" fill="#e2691c"/><rect x="8.75" y="0" width="0.85" height="4.6" fill="#fff"/><rect x="12.3" y="0" width="0.85" height="4.6" fill="#fff"/><path fill="#e2691c" d="M6.1 10.2 H15.8 C15.8 13 13.6 14.7 10.95 14.7 C8.3 14.7 6.1 13 6.1 10.2 Z"/><path fill="#e2691c" d="M0 25.7 V23.4 C0 20.2 4.4 17.9 10.95 17.9 C12.9 17.9 14.6 18.1 16.2 18.5 V25.7 Z"/><path d="M22 12.3 L31.2 21.5 L22 30.7 L12.8 21.5 Z" fill="#fff" stroke="#fff" stroke-width="3.8" stroke-linejoin="round"/><path d="M22 12.3 L31.2 21.5 L22 30.7 L12.8 21.5 Z" fill="#fff" stroke="#e2691c" stroke-width="2.1" stroke-linejoin="round"/><rect x="21.1" y="17.0" width="1.8" height="5.6" rx="0.5" fill="#e2691c"/><circle cx="22" cy="25.2" r="1.1" fill="#e2691c"/></svg>
<svg class="abs" style="left:1042.10px;top:968.00px" width="22" height="26" viewBox="0 0 22 26"><path fill="#6b6f8c" d="M4.4 7.6 C4.4 3.2 7.4 0 11 0 C14.6 0 17.6 3.2 17.6 7.6 Z"/><rect x="3.2" y="7.2" width="15.6" height="1.7" rx="0.6" fill="#6b6f8c"/><rect x="8.7" y="0" width="0.9" height="4.6" fill="#f3f5f7"/><rect x="12.4" y="0" width="0.9" height="4.6" fill="#f3f5f7"/><path fill="#6b6f8c" d="M5.9 9.6 H16.1 C16.1 12.6 13.8 14.8 11 14.8 C8.2 14.8 5.9 12.6 5.9 9.6 Z"/><path fill="#6b6f8c" d="M0 25.8 V22.6 C0 19.6 5 17.8 11 17.8 C17 17.8 22 19.6 22 22.6 V25.8 Z"/></svg>
<svg class="abs" style="left:1361.20px;top:968.00px" width="22" height="26" viewBox="0 0 22 26"><path fill="#6b6f8c" d="M4.4 7.6 C4.4 3.2 7.4 0 11 0 C14.6 0 17.6 3.2 17.6 7.6 Z"/><rect x="3.2" y="7.2" width="15.6" height="1.7" rx="0.6" fill="#6b6f8c"/><rect x="8.7" y="0" width="0.9" height="4.6" fill="#f3f5f7"/><rect x="12.4" y="0" width="0.9" height="4.6" fill="#f3f5f7"/><path fill="#6b6f8c" d="M5.9 9.6 H16.1 C16.1 12.6 13.8 14.8 11 14.8 C8.2 14.8 5.9 12.6 5.9 9.6 Z"/><path fill="#6b6f8c" d="M0 25.8 V22.6 C0 19.6 5 17.8 11 17.8 C17 17.8 22 19.6 22 22.6 V25.8 Z"/></svg>
<svg class="abs" style="left:722.63px;top:1044.91px" width="30.55" height="30.55" viewBox="0 0 24 24"><path fill="#6b6f8c" d="M20 8h-3V4H3c-1.1 0-2 .9-2 2v11h2c0 1.66 1.34 3 3 3s3-1.34 3-3h6c0 1.66 1.34 3 3 3s3-1.34 3-3h2v-5l-3-4zM6 18.5c-.83 0-1.5-.67-1.5-1.5s.67-1.5 1.5-1.5 1.5.67 1.5 1.5-.67 1.5-1.5 1.5zm13.5-9l1.96 2.5H17V9.5h2.5zm-1.5 9c-.83 0-1.5-.67-1.5-1.5s.67-1.5 1.5-1.5 1.5.67 1.5 1.5-.67 1.5-1.5 1.5z"/></svg>
<svg class="abs" style="left:1040.83px;top:1044.91px" width="30.55" height="30.55" viewBox="0 0 24 24"><path fill="#6b6f8c" d="M20 8h-3V4H3c-1.1 0-2 .9-2 2v11h2c0 1.66 1.34 3 3 3s3-1.34 3-3h6c0 1.66 1.34 3 3 3s3-1.34 3-3h2v-5l-3-4zM6 18.5c-.83 0-1.5-.67-1.5-1.5s.67-1.5 1.5-1.5 1.5.67 1.5 1.5-.67 1.5-1.5 1.5zm13.5-9l1.96 2.5H17V9.5h2.5zm-1.5 9c-.83 0-1.5-.67-1.5-1.5s.67-1.5 1.5-1.5 1.5.67 1.5 1.5-.67 1.5-1.5 1.5z"/></svg>
<svg class="abs" style="left:1357.03px;top:1044.91px" width="30.55" height="30.55" viewBox="0 0 24 24"><path fill="#6b6f8c" d="M20 8h-3V4H3c-1.1 0-2 .9-2 2v11h2c0 1.66 1.34 3 3 3s3-1.34 3-3h6c0 1.66 1.34 3 3 3s3-1.34 3-3h2v-5l-3-4zM6 18.5c-.83 0-1.5-.67-1.5-1.5s.67-1.5 1.5-1.5 1.5.67 1.5 1.5-.67 1.5-1.5 1.5zm13.5-9l1.96 2.5H17V9.5h2.5zm-1.5 9c-.83 0-1.5-.67-1.5-1.5s.67-1.5 1.5-1.5 1.5.67 1.5 1.5-.67 1.5-1.5 1.5z"/></svg>
<span class="t" style="left:171.98px;top:290.44px;font-size:29.36px;color:#ffffff;transform:scaleX(1.0887);-webkit-text-stroke:0.70px #ffffff;">Shift</span>
<span class="t" style="left:246.32px;top:290.44px;font-size:29.36px;color:#ffffff;transform:scaleX(1.0902);-webkit-text-stroke:0.70px #ffffff;">Manager</span>
<span class="t" style="left:423.52px;top:289.65px;font-size:29.12px;color:#a59796;transform:scaleX(1.1150);-webkit-text-stroke:0.87px #a59796;">Driver</span>
<span class="t" style="left:519.61px;top:289.65px;font-size:29.12px;color:#a59796;transform:scaleX(1.0659);-webkit-text-stroke:0.87px #a59796;">Roster</span>
<span class="t" style="left:172.14px;top:375.65px;font-size:24.87px;color:#ffffff;transform:scaleX(1.1234);-webkit-text-stroke:0.59px #ffffff;">Shift</span>
<span class="t" style="left:235.69px;top:375.65px;font-size:24.87px;color:#ffffff;transform:scaleX(1.1173);-webkit-text-stroke:0.59px #ffffff;">Name</span>
<span class="t" style="left:670.99px;top:378.05px;font-size:24.87px;color:#ffffff;transform:scaleX(1.0746);-webkit-text-stroke:0.59px #ffffff;">Wednesday</span>
<span class="t" style="left:906.37px;top:378.32px;font-size:25.73px;color:#ffffff;transform:scaleX(1.0299);">19</span>
<span class="t" style="left:988.47px;top:378.05px;font-size:24.87px;color:#ffffff;transform:scaleX(1.1061);-webkit-text-stroke:0.59px #ffffff;">Thursday</span>
<span class="t" style="left:1223.57px;top:378.32px;font-size:25.73px;color:#ffffff;transform:scaleX(1.0514);">20</span>
<span class="t" style="left:1304.31px;top:378.25px;font-size:24.87px;color:#ffffff;transform:scaleX(1.1032);-webkit-text-stroke:0.59px #ffffff;">Friday</span>
<span class="t" style="left:1534.93px;top:377.52px;font-size:25.73px;color:#ffffff;transform:scaleX(0.9372);">21</span>
<span class="t" style="left:230.74px;top:456.52px;font-size:28.56px;color:#141414;transform:scaleX(1.1705);-webkit-text-stroke:0.85px #141414;">Night</span>
<span class="t" style="left:230.74px;top:624.52px;font-size:28.56px;color:#141414;transform:scaleX(1.1705);-webkit-text-stroke:0.85px #141414;">Night</span>
<span class="t" style="left:230.74px;top:792.52px;font-size:28.56px;color:#141414;transform:scaleX(1.1705);-webkit-text-stroke:0.85px #141414;">Night</span>
<span class="t" style="left:230.74px;top:960.52px;font-size:28.56px;color:#141414;transform:scaleX(1.1705);-webkit-text-stroke:0.85px #141414;">Night</span>
<span class="t" style="left:318.36px;top:456.52px;font-size:28.56px;color:#141414;transform:scaleX(1.1046);-webkit-text-stroke:0.85px #141414;">Shift</span>
<span class="t" style="left:318.36px;top:624.52px;font-size:28.56px;color:#141414;transform:scaleX(1.1046);-webkit-text-stroke:0.85px #141414;">Shift</span>
<span class="t" style="left:318.36px;top:792.52px;font-size:28.56px;color:#141414;transform:scaleX(1.1046);-webkit-text-stroke:0.85px #141414;">Shift</span>
<span class="t" style="left:318.36px;top:960.52px;font-size:28.56px;color:#141414;transform:scaleX(1.1046);-webkit-text-stroke:0.85px #141414;">Shift</span>
<span class="t" style="left:390.59px;top:456.52px;font-size:28.56px;color:#141414;transform:scaleX(1.0521);-webkit-text-stroke:0.85px #141414;">-</span>
<span class="t" style="left:390.59px;top:624.52px;font-size:28.56px;color:#141414;transform:scaleX(1.0521);-webkit-text-stroke:0.85px #141414;">-</span>
<span class="t" style="left:390.59px;top:792.52px;font-size:28.56px;color:#141414;transform:scaleX(1.0521);-webkit-text-stroke:0.85px #141414;">-</span>
<span class="t" style="left:390.59px;top:960.52px;font-size:28.56px;color:#141414;transform:scaleX(1.0521);-webkit-text-stroke:0.85px #141414;">-</span>
<span class="t" style="left:408.07px;top:456.52px;font-size:28.56px;color:#141414;transform:scaleX(0.9885);-webkit-text-stroke:0.85px #141414;">HB1</span>
<span class="t" style="left:408.07px;top:624.52px;font-size:28.56px;color:#141414;transform:scaleX(0.9885);-webkit-text-stroke:0.85px #141414;">HB1</span>
<span class="t" style="left:408.07px;top:792.52px;font-size:28.56px;color:#141414;transform:scaleX(0.9885);-webkit-text-stroke:0.85px #141414;">HB1</span>
<span class="t" style="left:408.07px;top:960.52px;font-size:28.56px;color:#141414;transform:scaleX(0.9885);-webkit-text-stroke:0.85px #141414;">HB1</span>
<span class="t" style="left:230.99px;top:501.12px;font-size:25.73px;color:#1170cb;transform:scaleX(0.9350);">N_HB1</span>
<span class="t" style="left:230.99px;top:669.12px;font-size:25.73px;color:#1170cb;transform:scaleX(0.9350);">N_HB1</span>
<span class="t" style="left:230.99px;top:837.12px;font-size:25.73px;color:#1170cb;transform:scaleX(0.9350);">N_HB1</span>
<span class="t" style="left:230.99px;top:1005.12px;font-size:25.73px;color:#1170cb;transform:scaleX(0.9350);">N_HB1</span>
<span class="t" style="left:272.28px;top:545.34px;font-size:25.00px;color:#686c7c;transform:scaleX(1.0135);-webkit-text-stroke:0.30px #686c7c;">565</span>
<span class="t" style="left:272.28px;top:713.34px;font-size:25.00px;color:#686c7c;transform:scaleX(1.0135);-webkit-text-stroke:0.30px #686c7c;">565</span>
<span class="t" style="left:272.28px;top:881.34px;font-size:25.00px;color:#686c7c;transform:scaleX(1.0135);-webkit-text-stroke:0.30px #686c7c;">565</span>
<span class="t" style="left:272.28px;top:1049.34px;font-size:25.00px;color:#686c7c;transform:scaleX(1.0135);-webkit-text-stroke:0.30px #686c7c;">565</span>
<span class="t" style="left:315.96px;top:544.97px;font-size:25.44px;color:#8d919e;transform:scaleX(1.0753);">/525</span>
<span class="t" style="left:315.96px;top:712.97px;font-size:25.44px;color:#8d919e;transform:scaleX(1.0753);">/525</span>
<span class="t" style="left:315.96px;top:880.97px;font-size:25.44px;color:#8d919e;transform:scaleX(1.0753);">/525</span>
<span class="t" style="left:315.96px;top:1048.97px;font-size:25.44px;color:#8d919e;transform:scaleX(1.0753);">/525</span>
<span class="t" style="left:427.94px;top:545.40px;font-size:24.93px;color:#e2691c;transform:scaleX(1.0292);-webkit-text-stroke:0.35px #e2691c;">343</span>
<span class="t" style="left:427.94px;top:713.40px;font-size:24.93px;color:#e2691c;transform:scaleX(1.0292);-webkit-text-stroke:0.35px #e2691c;">343</span>
<span class="t" style="left:427.94px;top:881.40px;font-size:24.93px;color:#e2691c;transform:scaleX(1.0292);-webkit-text-stroke:0.35px #e2691c;">343</span>
<span class="t" style="left:427.94px;top:1049.40px;font-size:24.93px;color:#e2691c;transform:scaleX(1.0292);-webkit-text-stroke:0.35px #e2691c;">343</span>
<span class="t" style="left:471.26px;top:544.97px;font-size:25.44px;color:#8d919e;transform:scaleX(1.0962);">/329</span>
<span class="t" style="left:471.26px;top:712.97px;font-size:25.44px;color:#8d919e;transform:scaleX(1.0962);">/329</span>
<span class="t" style="left:471.26px;top:880.97px;font-size:25.44px;color:#8d919e;transform:scaleX(1.0962);">/329</span>
<span class="t" style="left:471.26px;top:1048.97px;font-size:25.44px;color:#8d919e;transform:scaleX(1.0962);">/329</span>
<span class="t" style="left:760.16px;top:464.97px;font-size:24.73px;color:#e2691c;transform:scaleX(1.0408);-webkit-text-stroke:0.79px #e2691c;">72</span>
<span class="t" style="left:760.16px;top:632.97px;font-size:24.73px;color:#e2691c;transform:scaleX(1.0408);-webkit-text-stroke:0.79px #e2691c;">72</span>
<span class="t" style="left:760.16px;top:800.97px;font-size:24.73px;color:#e2691c;transform:scaleX(1.0408);-webkit-text-stroke:0.79px #e2691c;">72</span>
<span class="t" style="left:760.16px;top:968.97px;font-size:24.73px;color:#e2691c;transform:scaleX(1.0408);-webkit-text-stroke:0.79px #e2691c;">72</span>
<span class="t" style="left:795.76px;top:464.97px;font-size:24.73px;color:#e2691c;transform:scaleX(1.1374);-webkit-text-stroke:0.79px #e2691c;">Drivers</span>
<span class="t" style="left:795.76px;top:632.97px;font-size:24.73px;color:#e2691c;transform:scaleX(1.1374);-webkit-text-stroke:0.79px #e2691c;">Drivers</span>
<span class="t" style="left:795.76px;top:800.97px;font-size:24.73px;color:#e2691c;transform:scaleX(1.1374);-webkit-text-stroke:0.79px #e2691c;">Drivers</span>
<span class="t" style="left:795.76px;top:968.97px;font-size:24.73px;color:#e2691c;transform:scaleX(1.1374);-webkit-text-stroke:0.79px #e2691c;">Drivers</span>
<span class="t" style="left:1078.63px;top:464.73px;font-size:25.01px;color:#636883;transform:scaleX(1.0039);-webkit-text-stroke:0.59px #636883;">78</span>
<span class="t" style="left:1078.63px;top:632.73px;font-size:25.01px;color:#636883;transform:scaleX(1.0039);-webkit-text-stroke:0.59px #636883;">78</span>
<span class="t" style="left:1078.63px;top:800.73px;font-size:25.01px;color:#636883;transform:scaleX(1.0039);-webkit-text-stroke:0.59px #636883;">78</span>
<span class="t" style="left:1078.63px;top:968.73px;font-size:25.01px;color:#636883;transform:scaleX(1.0039);-webkit-text-stroke:0.59px #636883;">78</span>
<span class="t" style="left:1113.77px;top:464.73px;font-size:25.01px;color:#636883;transform:scaleX(1.1280);-webkit-text-stroke:0.59px #636883;">Drivers</span>
<span class="t" style="left:1113.77px;top:632.73px;font-size:25.01px;color:#636883;transform:scaleX(1.1280);-webkit-text-stroke:0.59px #636883;">Drivers</span>
<span class="t" style="left:1113.77px;top:800.73px;font-size:25.01px;color:#636883;transform:scaleX(1.1280);-webkit-text-stroke:0.59px #636883;">Drivers</span>
<span class="t" style="left:1113.77px;top:968.73px;font-size:25.01px;color:#636883;transform:scaleX(1.1280);-webkit-text-stroke:0.59px #636883;">Drivers</span>
<span class="t" style="left:1397.49px;top:464.73px;font-size:25.01px;color:#636883;transform:scaleX(0.9349);-webkit-text-stroke:0.59px #636883;">81</span>
<span class="t" style="left:1397.49px;top:632.73px;font-size:25.01px;color:#636883;transform:scaleX(0.9349);-webkit-text-stroke:0.59px #636883;">81</span>
<span class="t" style="left:1397.49px;top:800.73px;font-size:25.01px;color:#636883;transform:scaleX(0.9349);-webkit-text-stroke:0.59px #636883;">81</span>
<span class="t" style="left:1397.49px;top:968.73px;font-size:25.01px;color:#636883;transform:scaleX(0.9349);-webkit-text-stroke:0.59px #636883;">81</span>
<span class="t" style="left:1432.47px;top:464.73px;font-size:25.01px;color:#636883;transform:scaleX(1.1280);-webkit-text-stroke:0.59px #636883;">Drivers</span>
<span class="t" style="left:1432.47px;top:632.73px;font-size:25.01px;color:#636883;transform:scaleX(1.1280);-webkit-text-stroke:0.59px #636883;">Drivers</span>
<span class="t" style="left:1432.47px;top:800.73px;font-size:25.01px;color:#636883;transform:scaleX(1.1280);-webkit-text-stroke:0.59px #636883;">Drivers</span>
<span class="t" style="left:1432.47px;top:968.73px;font-size:25.01px;color:#636883;transform:scaleX(1.1280);-webkit-text-stroke:0.59px #636883;">Drivers</span>
<span class="t" style="left:763.09px;top:543.45px;font-size:24.87px;color:#636883;transform:scaleX(1.1050);-webkit-text-stroke:0.59px #636883;">57</span>
<span class="t" style="left:763.09px;top:711.45px;font-size:24.87px;color:#636883;transform:scaleX(1.1050);-webkit-text-stroke:0.59px #636883;">57</span>
<span class="t" style="left:763.09px;top:879.45px;font-size:24.87px;color:#636883;transform:scaleX(1.1050);-webkit-text-stroke:0.59px #636883;">57</span>
<span class="t" style="left:763.09px;top:1047.45px;font-size:24.87px;color:#636883;transform:scaleX(1.1050);-webkit-text-stroke:0.59px #636883;">57</span>
<span class="t" style="left:799.96px;top:543.45px;font-size:24.87px;color:#636883;transform:scaleX(1.0849);-webkit-text-stroke:0.59px #636883;">Vehicle</span>
<span class="t" style="left:799.96px;top:711.45px;font-size:24.87px;color:#636883;transform:scaleX(1.0849);-webkit-text-stroke:0.59px #636883;">Vehicle</span>
<span class="t" style="left:799.96px;top:879.45px;font-size:24.87px;color:#636883;transform:scaleX(1.0849);-webkit-text-stroke:0.59px #636883;">Vehicle</span>
<span class="t" style="left:799.96px;top:1047.45px;font-size:24.87px;color:#636883;transform:scaleX(1.0849);-webkit-text-stroke:0.59px #636883;">Vehicle</span>
<span class="t" style="left:1080.62px;top:543.45px;font-size:24.87px;color:#636883;transform:scaleX(1.0246);-webkit-text-stroke:0.59px #636883;">60</span>
<span class="t" style="left:1080.62px;top:711.45px;font-size:24.87px;color:#636883;transform:scaleX(1.0246);-webkit-text-stroke:0.59px #636883;">60</span>
<span class="t" style="left:1080.62px;top:879.45px;font-size:24.87px;color:#636883;transform:scaleX(1.0246);-webkit-text-stroke:0.59px #636883;">60</span>
<span class="t" style="left:1080.62px;top:1047.45px;font-size:24.87px;color:#636883;transform:scaleX(1.0246);-webkit-text-stroke:0.59px #636883;">60</span>
<span class="t" style="left:1118.16px;top:543.45px;font-size:24.87px;color:#636883;transform:scaleX(1.0912);-webkit-text-stroke:0.59px #636883;">Vehicle</span>
<span class="t" style="left:1118.16px;top:711.45px;font-size:24.87px;color:#636883;transform:scaleX(1.0912);-webkit-text-stroke:0.59px #636883;">Vehicle</span>
<span class="t" style="left:1118.16px;top:879.45px;font-size:24.87px;color:#636883;transform:scaleX(1.0912);-webkit-text-stroke:0.59px #636883;">Vehicle</span>
<span class="t" style="left:1118.16px;top:1047.45px;font-size:24.87px;color:#636883;transform:scaleX(1.0912);-webkit-text-stroke:0.59px #636883;">Vehicle</span>
<span class="t" style="left:1397.57px;top:543.45px;font-size:24.87px;color:#636883;transform:scaleX(1.0004);-webkit-text-stroke:0.59px #636883;">50</span>
<span class="t" style="left:1397.57px;top:711.45px;font-size:24.87px;color:#636883;transform:scaleX(1.0004);-webkit-text-stroke:0.59px #636883;">50</span>
<span class="t" style="left:1397.57px;top:879.45px;font-size:24.87px;color:#636883;transform:scaleX(1.0004);-webkit-text-stroke:0.59px #636883;">50</span>
<span class="t" style="left:1397.57px;top:1047.45px;font-size:24.87px;color:#636883;transform:scaleX(1.0004);-webkit-text-stroke:0.59px #636883;">50</span>
<span class="t" style="left:1433.16px;top:543.45px;font-size:24.87px;color:#636883;transform:scaleX(1.0974);-webkit-text-stroke:0.59px #636883;">Vehicle</span>
<span class="t" style="left:1433.16px;top:711.45px;font-size:24.87px;color:#636883;transform:scaleX(1.0974);-webkit-text-stroke:0.59px #636883;">Vehicle</span>
<span class="t" style="left:1433.16px;top:879.45px;font-size:24.87px;color:#636883;transform:scaleX(1.0974);-webkit-text-stroke:0.59px #636883;">Vehicle</span>
<span class="t" style="left:1433.16px;top:1047.45px;font-size:24.87px;color:#636883;transform:scaleX(1.0974);-webkit-text-stroke:0.59px #636883;">Vehicle</span>
</body></html>
